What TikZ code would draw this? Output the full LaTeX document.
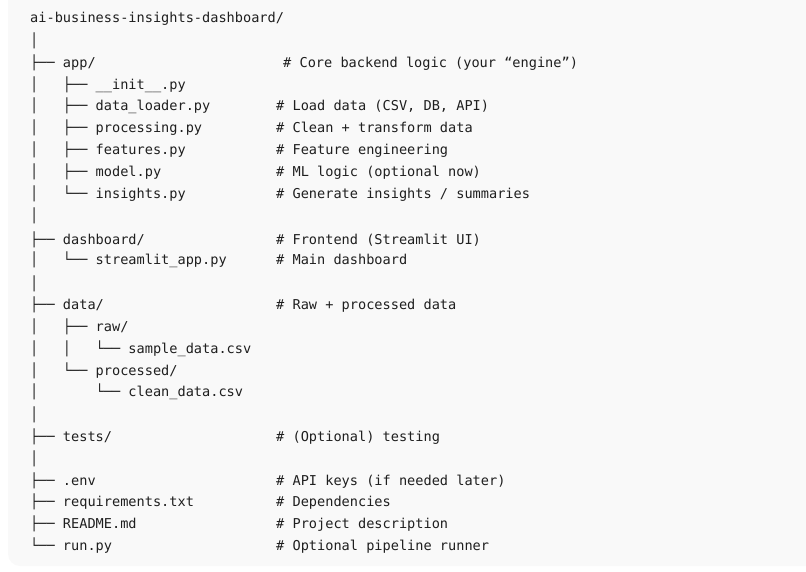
\documentclass[tikz,border=0pt]{standalone}
\usepackage{fontspec}
\setmonofont{DejaVu Sans Mono}
\definecolor{bg}{HTML}{F9F9F9}
\definecolor{ink}{HTML}{1F1F1F}
\tikzset{
  line/.style={anchor=base west, inner sep=0pt, font=\ttfamily\fontsize{13.6}{14}\selectfont, text=ink},
}
\newcommand\rowtxt[3]{\node[line] (r#1) at (30,#2+5) {#3};}
\newcommand\cmt[3]{\node[line] (c#1) at (#2,#1+5) {\#\ #3};}
\begin{document}
\begin{tikzpicture}[x=1pt,y=-1pt]
\useasboundingbox (0,0) rectangle (806,572);
\fill[bg, rounded corners=12pt] (8,-20) rectangle (830,566);
\rowtxt{1}{18}{ai-business-insights-dashboard/}
\rowtxt{2}{41}{│}
\rowtxt{3}{63}{├──\ app/}
\rowtxt{4}{85}{│\ \ \ ├──\ \_\_init\_\_.py}
\rowtxt{5}{106}{│\ \ \ ├──\ data\_loader.py}
\rowtxt{6}{128}{│\ \ \ ├──\ processing.py}
\rowtxt{7}{150}{│\ \ \ ├──\ features.py}
\rowtxt{8}{172}{│\ \ \ ├──\ model.py}
\rowtxt{9}{194}{│\ \ \ └──\ insights.py}
\rowtxt{10}{216}{│}
\rowtxt{11}{239}{├──\ dashboard/}
\rowtxt{12}{260}{│\ \ \ └──\ streamlit\_app.py}
\rowtxt{13}{283}{│}
\rowtxt{14}{304}{├──\ data/}
\rowtxt{15}{326}{│\ \ \ ├──\ raw/}
\rowtxt{16}{348}{│\ \ \ │\ \ \ └──\ sample\_data.csv}
\rowtxt{17}{370}{│\ \ \ └──\ processed/}
\rowtxt{18}{391}{│\ \ \ \ \ \ \ └──\ clean\_data.csv}
\rowtxt{19}{414}{│}
\rowtxt{20}{436}{├──\ tests/}
\rowtxt{21}{458}{│}
\rowtxt{22}{480}{├──\ .env}
\rowtxt{23}{501}{├──\ requirements.txt}
\rowtxt{24}{523}{├──\ README.md}
\rowtxt{25}{545}{└──\ run.py}
\cmt{63}{283}{Core backend logic (your “engine”)}
\cmt{106}{276}{Load data (CSV, DB, API)}
\cmt{128}{276}{Clean + transform data}
\cmt{150}{276}{Feature engineering}
\cmt{172}{276}{ML logic (optional now)}
\cmt{194}{276}{Generate insights / summaries}
\cmt{239}{276}{Frontend (Streamlit UI)}
\cmt{260}{276}{Main dashboard}
\cmt{304}{276}{Raw + processed data}
\cmt{436}{276}{(Optional) testing}
\cmt{480}{276}{API keys (if needed later)}
\cmt{501}{276}{Dependencies}
\cmt{523}{276}{Project description}
\cmt{545}{276}{Optional pipeline runner}
\end{tikzpicture}
\end{document}
